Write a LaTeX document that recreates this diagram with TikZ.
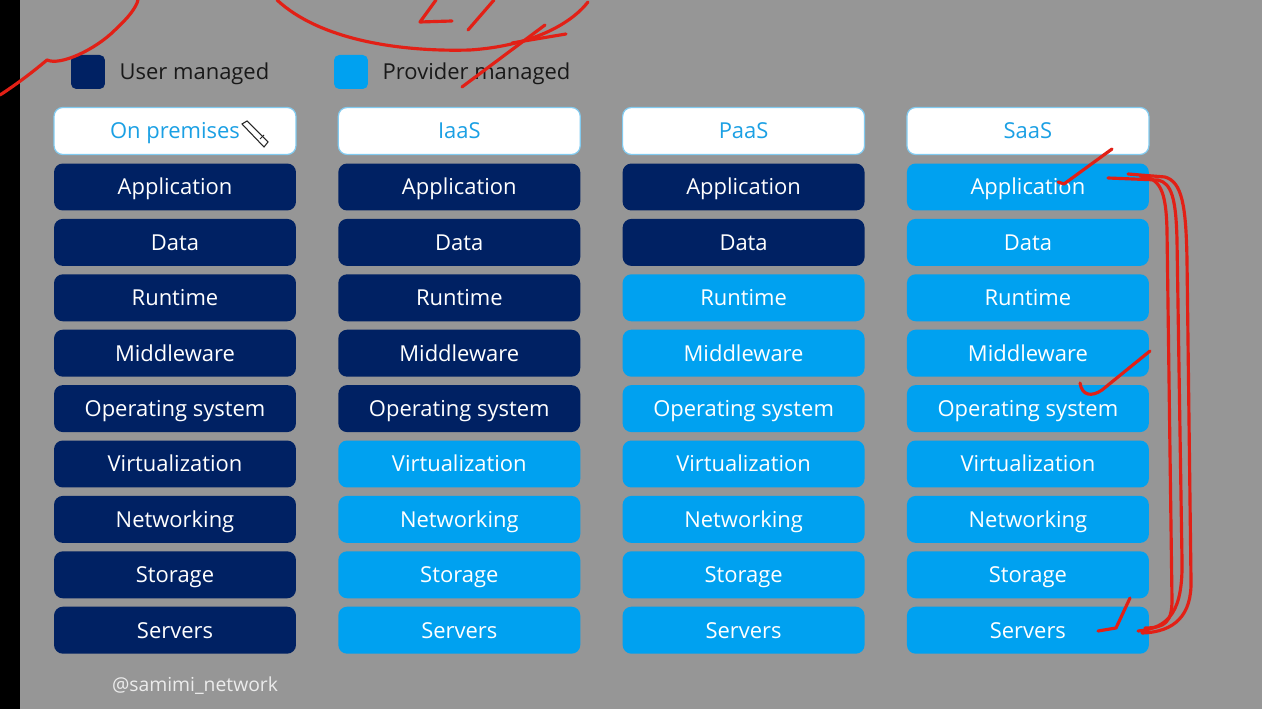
\documentclass[tikz,border=0pt]{standalone}
\usepackage{fontspec}
\setmainfont{Open Sans}
\usetikzlibrary{positioning}
\definecolor{usernavy}{RGB}{0,33,99}
\definecolor{provblue}{RGB}{0,161,240}
\definecolor{headblue}{RGB}{27,160,228}
\definecolor{bggray}{RGB}{150,150,150}
\definecolor{penred}{RGB}{226,32,22}
\definecolor{keytext}{RGB}{25,25,25}

\begin{document}
\begin{tikzpicture}[x=0.02cm, y=-0.02cm,
    layer/.style={rounded corners=5pt, minimum width=4.84cm, minimum height=0.94cm, inner sep=0pt, text height=9pt, text depth=0pt, text=white, font=\fontsize{12.5}{14}\selectfont},
    usr/.style={layer, fill=usernavy},
    prov/.style={layer, fill=provblue},
    head/.style={layer, fill=white, draw=headblue!55, line width=0.7pt, text=headblue},
    keybox/.style={rounded corners=3pt, minimum size=0.68cm, inner sep=0pt},
    keylabel/.style={text=keytext, font=\fontsize{12.5}{14}\selectfont, inner sep=0pt, text height=9pt, text depth=0pt},
    pen/.style={draw=penred, line width=1.8pt, line cap=round, line join=round}]

    % background and the dark strip on the left
    \fill[bggray] (0,0) rectangle (1262,709);
    \fill[black] (0,0) rectangle (20,709);
    \useasboundingbox (0,0) rectangle (1262,709);

    % legend
    \node[keybox, fill=usernavy] (userkey) at (88,72) {};
    \node[keylabel, right=0.28cm of userkey] (usertext) {User managed};
    \node[keybox, fill=provblue] (provkey) at (351,72) {};
    \node[keylabel, right=0.28cm of provkey] (provtext) {Provider managed};

    % the four columns: header, then nine layers (first \nusr are user managed)
    \foreach \col/\name/\nusr [count=\c from 0] in {onprem/On premises/9, iaas/IaaS/5, paas/PaaS/2, saas/SaaS/0} {
        \node[head] (\col-0) at ({175+284.3*\c}, 131) {\name};
        \foreach \lay [count=\r] in {Application,Data,Runtime,Middleware,Operating system,Virtualization,Networking,Storage,Servers} {
            \ifnum\r>\nusr \def\sty{prov}\else\def\sty{usr}\fi
            \node[\sty] (\col-\r) at ({175+284.3*\c}, {131.6+55.4*\r}) {\lay};
        }
    }

    % pencil cursor next to "On premises"
    \draw[gray!30!black, fill=white, line width=0.6pt] (242,124) -- (247,121) -- (268,142) -- (264,147) -- cycle;
    \draw[gray!30!black, line width=0.6pt] (260,139) -- (264,135);

    % watermark
    \node[text=white!85!gray, font=\fontsize{11}{13}\selectfont] (mark) at (195,686) {@samimi\_network};

    % red hand annotations
    \draw[pen] (0,95) .. controls (20,82) and (35,70) .. (47,60) .. controls (60,66) and (95,50) .. (115,30) .. controls (128,18) and (136,8) .. (138,0);
    \draw[pen] (277,0) .. controls (320,40) and (400,52) .. (470,50) .. controls (530,46) and (570,25) .. (588,2);
    \draw[pen] (436,0) -- (420,22) -- (452,21);
    \draw[pen] (468,30) -- (494,0);
    \draw[pen] (462,87) -- (545,25);
    \draw[pen] (512,43) -- (566,34);
    \draw[pen] (1058,182) -- (1064,184) -- (1112,149);
    \draw[pen] (1080,383) .. controls (1082,396) and (1092,397) .. (1102,390) -- (1150,351);
    \draw[pen] (1098,631) -- (1116,628) -- (1130,598);
    \draw[pen] (1108,178) -- (1158,180) .. controls (1172,183) and (1176,200) .. (1177,240) -- (1182,560) .. controls (1183,610) and (1170,628) .. (1138,631);
    \draw[pen] (1128,174) -- (1165,177) .. controls (1182,182) and (1186,205) .. (1187,260) -- (1191,580) .. controls (1192,615) and (1175,632) .. (1142,633);
    \draw[pen] (1140,176) .. controls (1160,178) and (1166,190) .. (1167,230) -- (1172,600) .. controls (1172,622) and (1165,628) .. (1145,628);

\end{tikzpicture}
\end{document}
